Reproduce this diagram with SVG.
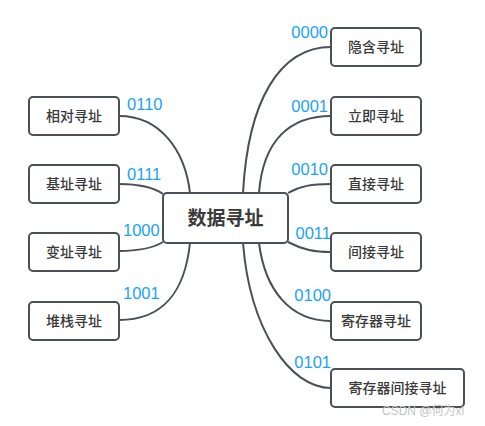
<svg xmlns="http://www.w3.org/2000/svg" width="485" height="426" viewBox="0 0 485 426">
<style>
.box{fill:#fff;stroke:#4b5057;stroke-width:2}
.t{font-family:"Noto Sans CJK SC","Liberation Sans",sans-serif;font-size:14px;fill:#3a3a3a;text-anchor:middle;font-weight:500}
.c{font-family:"Noto Sans CJK SC","Liberation Sans",sans-serif;font-size:19px;fill:#3a3a3a;text-anchor:middle;font-weight:bold}
.lbl{font-family:"Liberation Sans","Noto Sans",sans-serif;font-size:16.5px;fill:#1aa3f5}
.r{text-anchor:end}
#connectors path{fill:none;stroke:#4b5057;stroke-width:2}
.wm{font-family:"Liberation Sans","Noto Sans CJK SC",sans-serif;font-size:12px;fill:#c4c4c4}
</style>
<rect width="485" height="426" fill="#fff"/>
<g id="connectors">
<path d="M119,116 C160,116 185,150 190,193"/>
<path d="M119,184 C140,184 153,187 163,194"/>
<path d="M119,251 C140,251 153,248 163,242"/>
<path d="M119,320 C165,320 185,290 190,243"/>
<path d="M331,47 C280,47 248,100 243,193"/>
<path d="M331,116 C290,116 263,140 259,193"/>
<path d="M288,193 C300,186 312,184 331,184"/>
<path d="M288,242 C303,250 315,252 331,252"/>
<path d="M259,243 C265,290 290,321 331,321"/>
<path d="M243,243 C250,330 290,388 331,388"/>
</g>
<g id="center"><rect class="box" x="163" y="193" width="125" height="50" rx="4"/><text class="c" x="225.5" y="225">数据寻址</text></g>
<g id="n0110"><rect class="box" x="29" y="97" width="90" height="38" rx="4"/><text class="t" x="74" y="121">相对寻址</text></g>
<g id="n0111"><rect class="box" x="29" y="165" width="90" height="38" rx="4"/><text class="t" x="74" y="189">基址寻址</text></g>
<g id="n1000"><rect class="box" x="29" y="233" width="90" height="38" rx="4"/><text class="t" x="74" y="257">变址寻址</text></g>
<g id="n1001"><rect class="box" x="29" y="302" width="90" height="38" rx="4"/><text class="t" x="74" y="326">堆栈寻址</text></g>
<g id="n0000"><rect class="box" x="331" y="28" width="90" height="38" rx="4"/><text class="t" x="376" y="52">隐含寻址</text></g>
<g id="n0001"><rect class="box" x="331" y="97" width="90" height="38" rx="4"/><text class="t" x="376" y="121">立即寻址</text></g>
<g id="n0010"><rect class="box" x="331" y="165" width="90" height="38" rx="4"/><text class="t" x="376" y="189">直接寻址</text></g>
<g id="n0011"><rect class="box" x="331" y="233" width="90" height="38" rx="4"/><text class="t" x="376" y="257">间接寻址</text></g>
<g id="n0100"><rect class="box" x="331" y="302" width="90" height="38" rx="4"/><text class="t" x="376" y="326">寄存器寻址</text></g>
<g id="n0101"><rect class="box" x="331" y="369" width="133" height="38" rx="4"/><text class="t" x="397.5" y="393">寄存器间接寻址</text></g>
<g id="labels">
<text class="lbl r" x="328" y="38">0000</text>
<text class="lbl r" x="328" y="112">0001</text>
<text class="lbl r" x="328" y="175">0010</text>
<text class="lbl r" x="331" y="239">0011</text>
<text class="lbl r" x="331" y="301">0100</text>
<text class="lbl r" x="331" y="368">0101</text>
<text class="lbl" x="127" y="110">0110</text>
<text class="lbl" x="127" y="180">0111</text>
<text class="lbl" x="123" y="236">1000</text>
<text class="lbl" x="123" y="299">1001</text>
</g>
<text class="wm" x="382" y="415">CSDN @何为xl</text>
</svg>
